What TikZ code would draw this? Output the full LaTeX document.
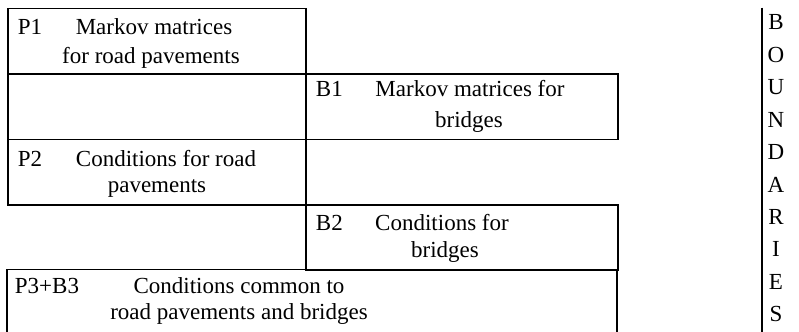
\documentclass[tikz,border=0pt]{standalone}
\usepackage{fontspec}
\setmainfont{Liberation Serif}
\usetikzlibrary{positioning}

\tikzset{
  leftcell/.style={draw, rectangle, anchor=north west, inner sep=0pt,
    minimum width=149pt, minimum height=32.75pt},
  rightcell/.style={draw, rectangle, anchor=north west, inner sep=0pt,
    minimum width=156pt, minimum height=32.75pt},
  tag/.style={anchor=base west, inner sep=0pt, font=\fontsize{11.5}{14}\selectfont},
  txt/.style={anchor=base, inner sep=0pt, font=\fontsize{11.5}{14}\selectfont},
  letter/.style={anchor=base, inner sep=0pt, font=\fontsize{11.5}{14}\selectfont}
}

\begin{document}
\begin{tikzpicture}[x=0.5pt, y=-0.5pt, line width=0.95pt]
  \useasboundingbox (0,0) rectangle (799,332);

  % cells of the table
  \node[leftcell] (p1) at (7,7.5) {};
  \node[leftcell] (gap1) at (7,73) {};
  \node[rightcell] (b1) at (305,73) {};
  \node[leftcell] (p2) at (7,138.5) {};
  \node[rightcell] (b2) at (305,204) {};

  % common cell, open at the bottom
  \coordinate (p3sw) at (7,345);
  \coordinate (p3ne) at (617,269.5);
  \coordinate (p3se) at (617,345);
  \draw (p3sw) |- (p3ne) -- (p3se);

  % boundaries column
  \coordinate (bdtop) at (762,7.5);
  \coordinate (bdbot) at (762,345);
  \draw (bdtop) -- (bdbot);

  % texts
  \node[tag] (p1tag) at (17,34) {P1};
  \node[txt] (p1a) at (154,34) {Markov matrices};
  \node[txt] (p1b) at (151,63) {for road pavements};

  \node[tag] (b1tag) at (315,97) {B1};
  \node[txt] (b1a) at (470,97) {Markov matrices for};
  \node[txt] (b1b) at (469,127) {bridges};

  \node[tag] (p2tag) at (17,166) {P2};
  \node[txt] (p2a) at (166,166) {Conditions for road};
  \node[txt] (p2b) at (157,192) {pavements};

  \node[tag] (b2tag) at (315,230) {B2};
  \node[txt] (b2a) at (442,230) {Conditions for};
  \node[txt] (b2b) at (445,257) {bridges};

  \node[tag] (p3tag) at (14,293) {P3+B3};
  \node[txt] (p3a) at (239,293) {Conditions common to};
  \node[txt] (p3b) at (239,319) {road pavements and bridges};

  \foreach \l [count=\i from 0] in {B,O,U,N,D,A,R,I,E,S}
    \node[letter] (bd\i) at (776,30+32.4*\i) {\l};
\end{tikzpicture}
\end{document}
